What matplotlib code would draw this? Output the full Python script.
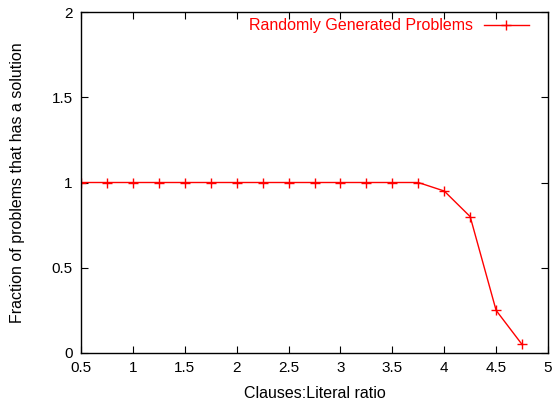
import matplotlib
matplotlib.use("Agg")
import matplotlib.pyplot as plt

plt.rcParams['font.family'] = ['Liberation Sans', 'DejaVu Sans']

x_vals = [0.5, 0.75, 1.0, 1.25, 1.5, 1.75, 2.0, 2.25, 2.5, 2.75, 3.0, 3.25, 3.5, 3.75, 4.0, 4.25, 4.5, 4.75]
y_vals = [1, 1, 1, 1, 1, 1, 1, 1, 1, 1, 1, 1, 1, 1, 0.95, 0.8, 0.25, 0.05]
x_ticks = [0.5, 1, 1.5, 2, 2.5, 3, 3.5, 4, 4.5, 5]
x_ticklabels = ['0.5', '1', '1.5', '2', '2.5', '3', '3.5', '4', '4.5', '5']
y_ticks = [0, 0.5, 1, 1.5, 2]
y_ticklabels = ['0', '0.5', '1', '1.5', '2']
series_label = 'Randomly Generated Problems'

fig = plt.figure(figsize=(5.55, 4.05), dpi=100)
ax = fig.add_axes([81/555, 1 - 353/405, (548-81)/555, (353-12)/405])
ax.plot(x_vals, y_vals, color='#ff0000', lw=1, marker='+', ms=7, mew=1, label=series_label)
ax.set_xlim(0.5, 5)
ax.set_ylim(0, 2)
ax.set_xticks(x_ticks)
ax.set_xticklabels(x_ticklabels)
ax.set_yticks(y_ticks)
ax.set_yticklabels(y_ticklabels)
ax.tick_params(direction='in', top=True, right=True, length=5, labelsize=11, pad=6)
for s in ax.spines.values():
    s.set_linewidth(1)
ax.set_xlabel('Clauses:Literal ratio', fontsize=11.5, labelpad=8)
ax.set_ylabel('Fraction of problems that has a solution', fontsize=11.5, labelpad=19)
leg = ax.legend(loc='upper right', frameon=False, markerfirst=False, fontsize=11.5,
                handlelength=2.8, borderaxespad=0, borderpad=0, handletextpad=0.7,
                bbox_to_anchor=(0.959, 0.982))
for t in leg.get_texts():
    t.set_color('#ff0000')
fig.savefig('out.png', dpi=100)
